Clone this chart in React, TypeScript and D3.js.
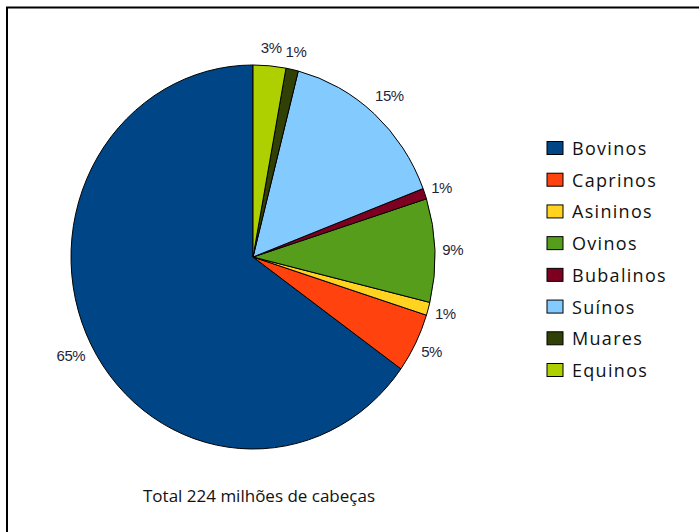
import React from "react";
import * as d3 from "d3";

const categories = ["Bovinos", "Caprinos", "Asininos", "Ovinos", "Bubalinos", "Suínos", "Muares", "Equinos"];
const shares = [65.1, 5.0, 1.1, 8.7, 0.9, 15.2, 1.1, 2.9];
const labels = ["65%", "5%", "1%", "9%", "1%", "15%", "1%", "3%"];
const colors = ["#004586", "#ff420e", "#ffd320", "#579d1c", "#7e0021", "#83caff", "#314004", "#aecf00"];
const caption = "Total 224 milhões de cabeças";

export default function App() {
  const W = 699, H = 532;
  const cx = 253, cy = 257, r = 182, sy = 192 / 182;
  const pie = d3.pie<number>().sort(null).startAngle(0).endAngle(-2 * Math.PI);
  const arcs = pie(shares);
  const arc = d3.arc<d3.PieArcDatum<number>>().innerRadius(0).outerRadius(r);

  const legendY = d3.scalePoint<string>().domain(categories).range([148, 370]);

  return (
    <svg width={W} height={H} style={{ position: "absolute", left: 0, top: 0 }} xmlns="http://www.w3.org/2000/svg">
      <rect x={0} y={0} width={W} height={H} fill="#fff" />
      <rect x={7} y={7.5} width={W + 20} height={H + 20} fill="none" stroke="#000" strokeWidth={2} />
      <g transform={`translate(${cx},${cy}) scale(1,${sy})`}>
        {arcs.map((a, i) => (
          <path key={i} d={arc(a) || ""} fill={colors[i]} stroke="#000" strokeWidth={1} vectorEffect="non-scaling-stroke" />
        ))}
      </g>
      {arcs.map((a, i) => {
        const m = (a.startAngle + a.endAngle) / 2;
        const lab = labels[i];
        const w = (lab.length - 1) * 8.3 + 13;
        const d = 187 + 0.6 * w;
        const x = cx + Math.sin(m) * d;
        const y = cy - Math.cos(m) * d * sy;
        return (
          <text key={i} x={x} y={y} textAnchor="middle" dominantBaseline="central"
            fontFamily="'Liberation Sans', Arial, sans-serif" fontSize={15} letterSpacing={-0.5} fill="#1f1f3a">
            {lab}
          </text>
        );
      })}
      {categories.map((c, i) => (
        <g key={c}>
          <rect x={547} y={(legendY(c) as number) - 6.5} width={16} height={13} fill={colors[i]} stroke="#000" strokeWidth={1} />
          <text x={572} y={legendY(c) as number} dominantBaseline="central" fontFamily="'Open Sans', sans-serif"
            fontSize={18} letterSpacing={1.3} fill="#111">
            {c}
          </text>
        </g>
      ))}
      <text x={143} y={495} dominantBaseline="central" fontFamily="'Open Sans', sans-serif" fontSize={17} fill="#111">
        {caption}
      </text>
    </svg>
  );
}
